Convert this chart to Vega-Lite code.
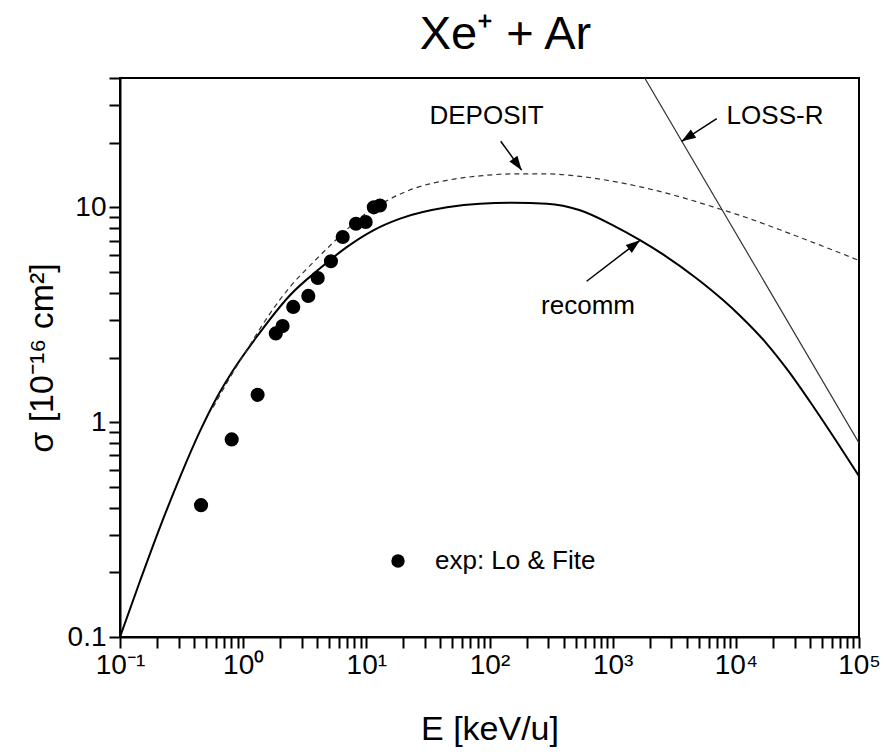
{
  "$schema": "https://vega.github.io/schema/vega-lite/v6.json",
  "width": 739,
  "height": 559,
  "autosize": {"type": "none"},
  "padding": {"left": 120, "top": 78, "right": 25, "bottom": 117},
  "background": "white",
  "config": {
    "font": "Liberation Sans",
    "view": {"stroke": "black", "strokeWidth": 2},
    "axis": {
      "domainColor": "black", "domainWidth": 2, "tickColor": "black", "tickWidth": 2,
      "labelColor": "black", "labelFont": "Liberation Sans", "labelFontSize": 28,
      "titleFont": "Liberation Sans", "titleFontWeight": "normal", "titleColor": "black",
      "grid": false, "labelOverlap": false, "labelBound": false, "labelFlush": false
    }
  },
  "title": {"text": "Xe⁺ + Ar", "fontSize": 47, "fontWeight": "normal", "font": "Liberation Sans", "color": "black", "offset": 5, "dx": 16, "anchor": "middle"},
  "datasets": {
    "recomm": [
      {"E": 0.1, "sigma": 0.1}, {"E": 0.1454, "sigma": 0.1822}, {"E": 0.2113, "sigma": 0.3248},
      {"E": 0.307, "sigma": 0.5549}, {"E": 0.4461, "sigma": 0.9082}, {"E": 0.613, "sigma": 1.307},
      {"E": 0.827, "sigma": 1.74},
      {"E": 1.29, "sigma": 2.5}, {"E": 2.4, "sigma": 3.9}, {"E": 4.21, "sigma": 5.2},
      {"E": 6.93, "sigma": 6.53}, {"E": 11.4, "sigma": 7.82}, {"E": 18.8, "sigma": 8.86},
      {"E": 45.2, "sigma": 10.0}, {"E": 83.7, "sigma": 10.4}, {"E": 155, "sigma": 10.5},
      {"E": 293, "sigma": 10.4}, {"E": 543, "sigma": 9.69}, {"E": 1007, "sigma": 8.25},
      {"E": 1667, "sigma": 7.04}, {"E": 2564, "sigma": 6.04}, {"E": 4842, "sigma": 4.65},
      {"E": 7870, "sigma": 3.7}, {"E": 10816, "sigma": 3.13}, {"E": 17910, "sigma": 2.31},
      {"E": 26020, "sigma": 1.766}, {"E": 42270, "sigma": 1.19}, {"E": 66200, "sigma": 0.809},
      {"E": 100000, "sigma": 0.561}
    ],
    "deposit": [
      {"E": 0.569, "sigma": 1.17}, {"E": 0.831, "sigma": 1.714}, {"E": 1.068, "sigma": 2.163},
      {"E": 1.65, "sigma": 3.203}, {"E": 2.4, "sigma": 4.26}, {"E": 3.71, "sigma": 5.55},
      {"E": 5.74, "sigma": 7.1}, {"E": 8.89, "sigma": 8.94}, {"E": 14.6, "sigma": 10.72},
      {"E": 23.9, "sigma": 12.19}, {"E": 45.2, "sigma": 13.36}, {"E": 83.7, "sigma": 14.01},
      {"E": 155, "sigma": 14.31}, {"E": 293, "sigma": 14.31}, {"E": 543, "sigma": 13.94},
      {"E": 1007, "sigma": 13.21}, {"E": 1901, "sigma": 12.26}, {"E": 3524, "sigma": 11.19},
      {"E": 6517, "sigma": 10.05}, {"E": 12330, "sigma": 8.94}, {"E": 22800, "sigma": 7.86},
      {"E": 42270, "sigma": 6.87}, {"E": 100000, "sigma": 5.66}
    ],
    "loss": [
      {"E": 1820, "sigma": 40}, {"E": 100000, "sigma": 0.8}
    ],
    "exp": [
      {"E": 0.455, "sigma": 0.411, "src": "exp: Lo & Fite"},
      {"E": 0.807, "sigma": 0.831, "src": "exp: Lo & Fite"},
      {"E": 1.31, "sigma": 1.34, "src": "exp: Lo & Fite"},
      {"E": 1.84, "sigma": 2.59, "src": "exp: Lo & Fite"},
      {"E": 2.09, "sigma": 2.8, "src": "exp: Lo & Fite"},
      {"E": 2.55, "sigma": 3.44, "src": "exp: Lo & Fite"},
      {"E": 3.38, "sigma": 3.87, "src": "exp: Lo & Fite"},
      {"E": 4.03, "sigma": 4.69, "src": "exp: Lo & Fite"},
      {"E": 5.16, "sigma": 5.61, "src": "exp: Lo & Fite"},
      {"E": 6.43, "sigma": 7.28, "src": "exp: Lo & Fite"},
      {"E": 8.24, "sigma": 8.39, "src": "exp: Lo & Fite"},
      {"E": 9.88, "sigma": 8.55, "src": "exp: Lo & Fite"},
      {"E": 11.5, "sigma": 10.0, "src": "exp: Lo & Fite"},
      {"E": 12.9, "sigma": 10.2, "src": "exp: Lo & Fite"}
    ],
    "labels": [
      {"E": 94.6, "sigma": 26.5, "label": "DEPOSIT"},
      {"E": 20800, "sigma": 26.5, "label": "LOSS-R"},
      {"E": 631, "sigma": 3.46, "label": "recomm"}
    ],
    "arrows": [
      {"name": "DEPOSIT", "E": 123.3, "sigma": 20.3, "E2": 182.4, "sigma2": 14.9},
      {"name": "LOSS-R", "E": 7000, "sigma": 25.9, "E2": 3631, "sigma2": 20.3},
      {"name": "recomm", "E": 615, "sigma": 4.53, "E2": 1667, "sigma2": 7.02}
    ]
  },
  "layer": [
    {
      "data": {"name": "recomm"},
      "mark": {"type": "line", "color": "black", "strokeWidth": 2, "interpolate": "monotone", "clip": true},
      "encoding": {
        "x": {
          "field": "E", "type": "quantitative",
          "scale": {"type": "log", "domain": [0.1, 100000], "nice": false},
          "axis": {
            "title": "E [keV/u]", "titleFontSize": 34, "titlePadding": 33, "labelPadding": 3, "tickSize": 11,
            "values": [0.1,0.2,0.3,0.4,0.5,0.6,0.7,0.8,0.9,1,2,3,4,5,6,7,8,9,10,20,30,40,50,60,70,80,90,100,200,300,400,500,600,700,800,900,1000,2000,3000,4000,5000,6000,7000,8000,9000,10000,20000,30000,40000,50000,60000,70000,80000,90000,100000],
            "labelExpr": "datum.value == 0.1 ? '10⁻¹' : datum.value == 1 ? '10⁰' : datum.value == 10 ? '10¹' : datum.value == 100 ? '10²' : datum.value == 1000 ? '10³' : datum.value == 10000 ? '10⁴' : datum.value == 100000 ? '10⁵' : ''",
            "encode": {"ticks": {"update": {"y2": {"signal": "indexof([0.1,1,10,100,1000,10000,100000], datum.value) >= 0 ? 11 : 6"}}}}
          }
        },
        "y": {
          "field": "sigma", "type": "quantitative",
          "scale": {"type": "log", "domain": [0.1, 40], "nice": false},
          "axis": {
            "title": "σ [10⁻¹⁶ cm²]", "titleFontSize": 34, "titlePadding": 8, "labelPadding": 3, "tickSize": 11,
            "values": [0.1,0.2,0.3,0.4,0.5,0.6,0.7,0.8,0.9,1,2,3,4,5,6,7,8,9,10,20,30,40],
            "labelExpr": "datum.value == 0.1 ? '0.1' : datum.value == 1 ? '1' : datum.value == 10 ? '10' : ''",
            "encode": {"ticks": {"update": {"x2": {"signal": "indexof([0.1,1,10], datum.value) >= 0 ? -11 : -6"}}}}
          }
        }
      }
    },
    {
      "data": {"name": "deposit"},
      "mark": {"type": "line", "color": "#333333", "strokeWidth": 1.2, "strokeDash": [5, 4], "interpolate": "monotone", "clip": true},
      "encoding": {
        "x": {"field": "E", "type": "quantitative"},
        "y": {"field": "sigma", "type": "quantitative"}
      }
    },
    {
      "data": {"name": "loss"},
      "mark": {"type": "line", "color": "#333333", "strokeWidth": 1.2, "clip": true},
      "encoding": {
        "x": {"field": "E", "type": "quantitative"},
        "y": {"field": "sigma", "type": "quantitative"}
      }
    },
    {
      "data": {"name": "exp"},
      "mark": {"type": "circle", "size": 200, "opacity": 1},
      "encoding": {
        "x": {"field": "E", "type": "quantitative"},
        "y": {"field": "sigma", "type": "quantitative"},
        "color": {
          "field": "src", "type": "nominal",
          "scale": {"range": ["black"]},
          "legend": {
            "title": null, "orient": "none", "legendX": 265, "legendY": 470, "padding": 0,
            "labelFontSize": 26, "labelFont": "Liberation Sans", "labelColor": "black", "labelLimit": 500,
            "symbolSize": 180, "symbolType": "circle", "symbolOpacity": 1, "labelOffset": 24
          }
        }
      }
    },
    {
      "data": {"name": "labels"},
      "mark": {"type": "text", "fontSize": 26, "font": "Liberation Sans", "color": "black", "align": "center", "baseline": "middle"},
      "encoding": {
        "x": {"field": "E", "type": "quantitative"},
        "y": {"field": "sigma", "type": "quantitative"},
        "text": {"field": "label"}
      }
    },
    {
      "data": {"name": "arrows"},
      "mark": {"type": "rule", "color": "black", "strokeWidth": 1.5},
      "encoding": {
        "x": {"field": "E", "type": "quantitative"},
        "y": {"field": "sigma", "type": "quantitative"},
        "x2": {"field": "E2"},
        "y2": {"field": "sigma2"}
      }
    },
    {
      "data": {"name": "arrows"},
      "transform": [{"filter": "datum.name == 'DEPOSIT'"}],
      "mark": {"type": "point", "shape": "M0,0L-0.35,1L0.35,1Z", "filled": true, "color": "black", "opacity": 1, "size": 800, "angle": 144.4},
      "encoding": {
        "x": {"field": "E2", "type": "quantitative"},
        "y": {"field": "sigma2", "type": "quantitative"}
      }
    },
    {
      "data": {"name": "arrows"},
      "transform": [{"filter": "datum.name == 'LOSS-R'"}],
      "mark": {"type": "point", "shape": "M0,0L-0.35,1L0.35,1Z", "filled": true, "color": "black", "opacity": 1, "size": 800, "angle": 237},
      "encoding": {
        "x": {"field": "E2", "type": "quantitative"},
        "y": {"field": "sigma2", "type": "quantitative"}
      }
    },
    {
      "data": {"name": "arrows"},
      "transform": [{"filter": "datum.name == 'recomm'"}],
      "mark": {"type": "point", "shape": "M0,0L-0.35,1L0.35,1Z", "filled": true, "color": "black", "opacity": 1, "size": 800, "angle": 52.4},
      "encoding": {
        "x": {"field": "E2", "type": "quantitative"},
        "y": {"field": "sigma2", "type": "quantitative"}
      }
    }
  ]
}
